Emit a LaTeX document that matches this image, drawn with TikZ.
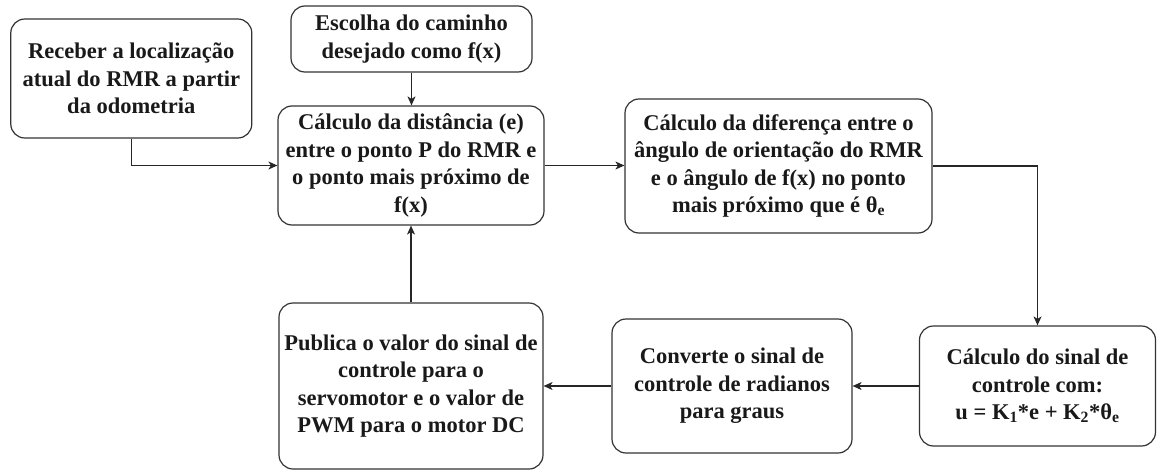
\documentclass[tikz,border=0pt]{standalone}
\usepackage{fontspec}
\setmainfont{Liberation Serif}
\usetikzlibrary{arrows.meta}
\begin{document}
\begin{tikzpicture}[x=1pt,y=-1pt,
  box/.style={draw=black!80, line width=1.2pt, rounded corners=14pt, align=center,
    font=\bfseries\fontsize{22.5}{27.5}\selectfont, inner sep=0pt, text=black!90},
  arr/.style={draw=black!85, line width=1.1pt, -{Stealth[length=9pt,width=8pt,inset=2.5pt]}}]
\useasboundingbox (0,0) rectangle (1157,471);
\node[box, minimum width=241pt, minimum height=119pt] (A) at (131.3,78.5)
  {Receber a localização\\atual do RMR a partir\\da odometria};
\node[box, minimum width=241pt, minimum height=66pt] (B) at (411.5,39)
  {Escolha do caminho\\desejado como f(x)};
\node[box, minimum width=266pt, minimum height=119pt] (C) at (411,165.5)
  {Cálculo da distância (e)\\entre o ponto P do RMR e\\o ponto mais próximo de\\f(x)};
\node[box, minimum width=307pt, minimum height=134pt] (D) at (778.5,166)
  {Cálculo da diferença entre o\\ângulo de orientação do RMR\\e o ângulo de f(x) no ponto\\mais próximo que é θ\textsubscript{e}};
\node[box, minimum width=236pt, minimum height=120pt] (E) at (1037.5,386)
  {Cálculo do sinal de\\controle com:\\u = K\textsubscript{1}*e + K\textsubscript{2}*θ\textsubscript{e}};
\node[box, minimum width=240pt, minimum height=134pt] (G) at (732,386)
  {Converte o sinal de\\controle de radianos\\para graus};
\node[box, minimum width=264pt, minimum height=166pt] (F) at (411,386)
  {Publica o valor do sinal de\\controle para o\\servomotor e o valor de\\PWM para o motor DC};
\draw[arr] (A.south) |- (C.west);
\draw[arr] (B.south) -- (B.south |- C.north);
\draw[arr] (C.east) -- (C.east -| D.west);
\draw[arr] (D.east) -| (E.north);
\draw[arr] (E.west) -- (G.east);
\draw[arr] (G.west) -- (F.east);
\draw[arr] (F.north) -- (C.south);
\end{tikzpicture}
\end{document}
